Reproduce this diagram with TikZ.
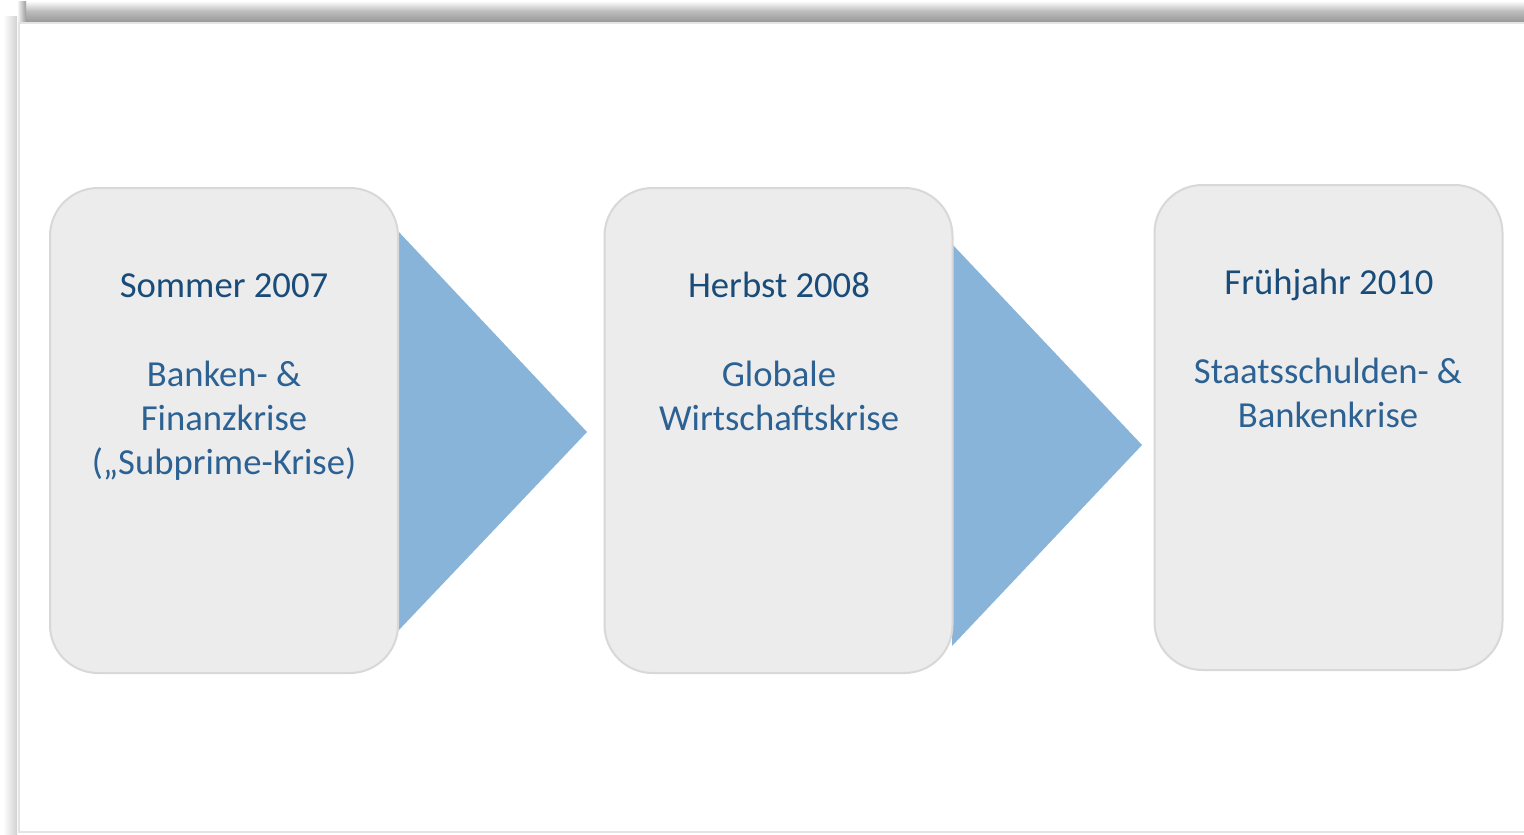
\documentclass[tikz,border=0pt]{standalone}
\usepackage{fontspec}
\setmainfont{Carlito}
\definecolor{titleblue}{HTML}{1A4C7A}
\definecolor{bodyblue}{HTML}{2B6193}
\definecolor{boxfill}{HTML}{ECECEC}
\definecolor{boxline}{HTML}{D8D8D8}
\definecolor{chevron}{HTML}{88B4D9}
\definecolor{shadowdark}{HTML}{9C9C9C}
\definecolor{shadowmid}{HTML}{BDBDBD}
\definecolor{shadowlight}{HTML}{F2F2F2}
\definecolor{edgeline}{HTML}{E4E4E4}
\begin{document}
\begin{tikzpicture}[x=0.75pt,y=-0.75pt,
  stage/.style={draw=boxline, line width=1.5pt, fill=boxfill,
    rounded corners=36pt, minimum width=261pt, minimum height=363.75pt,
    inner sep=0pt},
  title/.style={anchor=base, text=titleblue, font=\fontsize{27.5}{33}\selectfont},
  body/.style={anchor=base, text=bodyblue, font=\fontsize{27.5}{33}\selectfont},
  chev/.style={fill=chevron, draw=none}]
\useasboundingbox (0,0) rectangle (1524,835);
\fill[white] (0,0) rectangle (1524,835);

% frame shadow along the top and left edge
\shade[top color=white, bottom color=shadowmid] (26,1) rectangle (1524,11);
\shade[top color=shadowmid, bottom color=shadowdark] (26,11) rectangle (1524,21);
\shade[left color=shadowlight, right color=shadowdark] (18,1) rectangle (26,21);
\shade[left color=white, right color=black!18] (3,16) rectangle (17,835);
\fill[white] (18,22) rectangle (1524,832);
\draw[edgeline, line width=1.5pt] (1524,22.5) -- (18.5,22.5) -- (18.5,832) -- (1524,832);

% chevrons between stages
\fill[chev] (397,230) -- (587,432) -- (397,632) -- cycle;
\fill[chev] (952,244) -- (1142,445) -- (952,646) -- cycle;

% stage boxes
\node[stage] (b1) at (224,430.5) {};
\node[stage] (b2) at (778.5,430.5) {};
\node[stage] (b3) at (1328.5,427.5) {};

% texts
\node[title] (t1) at (224,297) {Sommer 2007};
\node[body] (l11) at (224,386) {Banken- \&};
\node[body] (l12) at (224,430) {Finanzkrise};
\node[body] (l13) at (224,474) {(„Subprime-Krise)};

\node[title] (t2) at (779,297) {Herbst 2008};
\node[body] (l21) at (779,386) {Globale};
\node[body] (l22) at (779,430) {Wirtschaftskrise};

\node[title] (t3) at (1329,294) {Frühjahr 2010};
\node[body] (l31) at (1328,383) {Staatsschulden- \&};
\node[body] (l32) at (1328,427) {Bankenkrise};
\end{tikzpicture}
\end{document}
